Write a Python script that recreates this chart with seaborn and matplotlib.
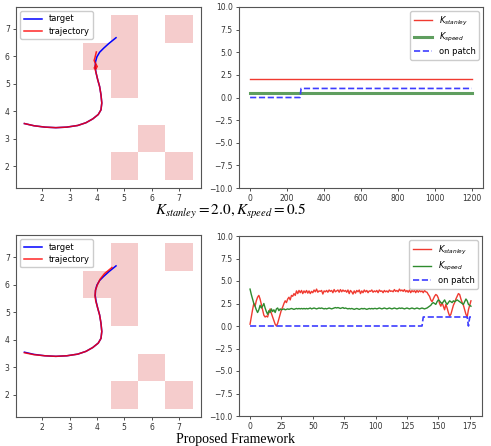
import matplotlib
matplotlib.use("Agg")
import matplotlib.pyplot as plt
from matplotlib.patches import Rectangle
import seaborn as sns

# ---------------- data ----------------
# obstacle patches (lower-left corner x, y), unit squares
patch_x = [3.5, 4.5, 4.5, 4.5, 6.5, 5.5, 4.5, 6.5]
patch_y = [5.5, 4.5, 5.5, 6.5, 6.5, 2.5, 1.5, 1.5]

target_x = [1.35, 1.7, 2.1, 2.5, 2.9, 3.3, 3.6, 3.85, 4.05, 4.15, 4.18, 4.15,
            4.1, 4.03, 3.97, 3.94, 3.95, 4.0, 4.1, 4.25, 4.45, 4.7]
target_y = [3.55, 3.47, 3.42, 3.40, 3.42, 3.48, 3.58, 3.72, 3.88, 4.05, 4.3, 4.6,
            4.9, 5.15, 5.4, 5.6, 5.8, 5.98, 6.15, 6.3, 6.48, 6.68]

traj1_x = [1.35, 1.7, 2.1, 2.5, 2.9, 3.3, 3.6, 3.85, 4.05, 4.15, 4.18, 4.15,
           4.1, 4.03, 3.97, 3.93, 3.9, 3.97, 4.0, 3.95, 3.92, 3.96, 4.0,
           3.93, 3.9, 3.93, 3.96, 3.98]
traj1_y = [3.55, 3.47, 3.42, 3.40, 3.42, 3.48, 3.58, 3.72, 3.88, 4.05, 4.3, 4.6,
           4.9, 5.15, 5.4, 5.55, 5.58, 5.55, 5.62, 5.7, 5.6, 5.55, 5.65,
           5.78, 5.85, 5.95, 6.08, 6.16]

traj2_x = [1.35, 1.7, 2.1, 2.5, 2.9, 3.3, 3.6, 3.85, 4.05, 4.15, 4.18, 4.15,
           4.1, 4.03, 3.96, 3.93, 3.95, 4.02, 4.12, 4.28, 4.55]
traj2_y = [3.53, 3.46, 3.42, 3.40, 3.42, 3.48, 3.58, 3.72, 3.88, 4.05, 4.3, 4.6,
           4.9, 5.15, 5.4, 5.6, 5.8, 6.0, 6.2, 6.4, 6.62]

# fixed gains run
fixed_t = [0, 1200]
fixed_stanley = [2.0, 2.0]
fixed_speed = [0.5, 0.5]
fixed_patch_t = [0, 270, 276, 1200]
fixed_patch = [0, 0, 1, 1]

# proposed framework run
k_stanley = [
    0.2, 1.0, 1.8, 2.5, 2.2, 2.8, 3.2, 3.4, 3.0, 2.4,
    1.8, 1.2, 1.0, 1.1, 1.0, 1.5, 1.9, 1.4, 1.0, 0.6,
    0.2, 0.0, 0.3, 0.8, 1.3, 1.8, 2.1, 2.5, 2.8, 2.6,
    3.0, 3.2, 2.9, 3.4, 3.3, 3.6, 3.4, 3.9, 3.6, 3.95,
    3.7, 3.95, 3.6, 3.9, 3.7, 3.95, 3.65, 3.9, 3.6, 3.85,
    3.7, 4.0, 3.8, 4.1, 3.75, 3.9, 3.85, 3.95, 3.55, 3.9,
    3.8, 3.95, 3.75, 4.0, 3.85, 3.95, 3.7, 4.05, 3.8, 3.9,
    4.0, 3.75, 4.05, 3.8, 4.0, 3.85, 3.95, 3.75, 4.0, 3.6,
    3.95, 3.8, 3.55, 3.9, 3.65, 3.95, 3.8, 4.0, 3.6, 3.9,
    3.7, 4.0, 3.8, 3.95, 3.7, 3.9, 3.85, 4.0, 3.75, 3.9,
    3.8, 3.95, 3.7, 4.0, 3.85, 3.9, 3.7, 3.95, 3.8, 3.9,
    3.75, 4.0, 3.85, 3.9, 3.8, 4.05, 3.85, 3.95, 3.8, 4.1,
    3.9, 4.0, 3.85, 4.05, 3.8, 3.95, 3.75, 4.0, 3.7, 3.95,
    3.8, 3.95, 3.7, 4.0, 3.75, 3.95, 3.8, 3.9, 3.7, 3.95,
    3.8, 3.75, 3.5, 3.3, 2.9, 2.7, 3.0, 3.3, 3.5, 3.4,
    3.1, 2.5, 2.2, 2.6, 2.2, 1.8, 2.4, 2.0, 1.5, 1.1,
    1.3, 1.8, 2.3, 2.6, 3.0, 3.3, 3.6, 3.5, 3.0, 2.6,
    2.3, 1.8, 1.3, 1.0, 1.8, 2.3, 2.8]
k_speed = [
    4.1, 3.5, 3.0, 2.5, 2.2, 1.8, 1.5, 1.8, 2.3, 2.0,
    2.2, 2.5, 2.0, 1.6, 1.3, 1.7, 1.5, 1.9, 1.6, 1.8,
    1.5, 1.9, 2.0, 1.7, 1.9, 1.8, 1.85, 1.9, 1.8, 1.85,
    1.9, 1.85, 1.9, 1.95, 1.9, 1.85, 1.9, 1.95, 1.9, 1.95,
    1.9, 1.95, 1.9, 1.95, 1.9, 1.95, 1.9, 1.95, 2.0, 1.9,
    1.95, 2.0, 1.95, 1.9, 1.95, 2.0, 1.95, 2.0, 1.95, 1.9,
    1.95, 1.9, 1.95, 2.0, 1.95, 1.9, 1.95, 2.0, 2.05, 2.0,
    2.05, 2.0, 1.95, 2.0, 2.05, 1.95, 2.0, 1.95, 1.9, 1.95,
    1.9, 1.95, 1.9, 1.85, 1.9, 1.95, 1.9, 1.85, 1.9, 1.95,
    1.9, 1.95, 1.9, 1.85, 1.9, 1.95, 1.9, 1.95, 1.9, 1.95,
    1.95, 1.9, 1.95, 2.0, 1.95, 1.9, 1.95, 2.0, 1.95, 1.9,
    1.95, 2.0, 1.95, 1.9, 1.95, 2.0, 1.95, 1.9, 1.95, 2.0,
    1.95, 2.0, 1.95, 1.9, 1.95, 2.0, 1.95, 1.9, 1.95, 2.0,
    1.95, 1.9, 1.95, 2.0, 1.95, 1.9, 1.95, 2.0, 1.95, 1.9,
    1.95, 2.0, 2.1, 2.2, 2.3, 2.5, 2.6, 2.5, 2.4, 2.7,
    2.9, 2.8, 2.6, 2.5, 2.7, 2.9, 2.6, 2.4, 2.6, 2.8,
    2.7, 2.6, 2.8, 2.7, 2.8, 2.9, 2.8, 2.7, 2.6, 2.5,
    2.4, 2.7, 3.0, 2.8, 2.4, 2.3, 2.2]
steps = list(range(len(k_stanley)))
prop_patch_t = [0, 137, 138, 173, 174, 175, 176]
prop_patch = [0, 0, 1, 1, 0, 1, 1]

caption_mid = r"$K_{stanley}=2.0, K_{speed}=0.5$"
caption_bottom = "Proposed Framework"

# ---------------- drawing ----------------
W, H = 491, 446
fig = plt.figure(figsize=(W / 100, H / 100), dpi=100)

def frac(x0, y0, x1, y1):
    return [x0 / W, 1 - y1 / H, (x1 - x0) / W, (y1 - y0) / H]

ax_tl = fig.add_axes(frac(16, 7, 201, 188))
ax_tr = fig.add_axes(frac(239, 7, 483, 188))
ax_bl = fig.add_axes(frac(16, 235, 201, 417))
ax_br = fig.add_axes(frac(239, 236, 482, 416))

RED = "#f03a30"
GREEN = "#2e8b2e"
BLUE = "#3d3dff"
PINK = "#f5cccc"
SPINE = "#555555"
FS = 5.5

def style(ax):
    for s in ax.spines.values():
        s.set_color(SPINE)
        s.set_linewidth(0.8)
    ax.tick_params(labelsize=FS, length=2.5, width=0.6, colors="#333333", pad=2)

def traj_panel(ax, tx, ty):
    for px, py in zip(patch_x, patch_y):
        ax.add_patch(Rectangle((px, py), 1, 1, facecolor=PINK, edgecolor="none", zorder=0))
    sns.lineplot(x=target_x, y=target_y, sort=False, estimator=None, ax=ax,
                 color="blue", lw=1.1, label="target")
    sns.lineplot(x=tx, y=ty, sort=False, estimator=None, ax=ax,
                 color="red", lw=1.1, alpha=0.85, label="trajectory")
    ax.autoscale()
    ax.set_xticks([2, 3, 4, 5, 6, 7])
    ax.set_yticks([2, 3, 4, 5, 6, 7])
    ax.legend(loc="upper left", fontsize=FS + 0.5, handlelength=2.2,
              borderpad=0.4, labelspacing=0.4, framealpha=1, edgecolor="#cccccc")
    style(ax)

traj_panel(ax_tl, traj1_x, traj1_y)
traj_panel(ax_bl, traj2_x, traj2_y)

def gain_panel(ax, t, ks, ksp, pt, pv, speed_lw, speed_color):
    sns.lineplot(x=t, y=ks, ax=ax, color=RED, lw=1.0, label=r"$K_{stanley}$")
    sns.lineplot(x=t, y=ksp, ax=ax, color=speed_color, lw=speed_lw, label=r"$K_{speed}$")
    sns.lineplot(x=pt, y=pv, ax=ax, color=BLUE, lw=1.2, linestyle="--",
                 label="on patch", estimator=None, sort=False)
    ax.set_ylim(-10, 10)
    ax.set_yticks([-10, -7.5, -5, -2.5, 0, 2.5, 5, 7.5, 10])
    ax.set_yticklabels(["\u221210.0", "\u22127.5", "\u22125.0", "\u22122.5", "0.0",
                        "2.5", "5.0", "7.5", "10.0"])
    ax.legend(loc="upper right", fontsize=FS + 0.5, handlelength=2.2,
              borderpad=0.4, labelspacing=0.4, framealpha=1, edgecolor="#cccccc")
    style(ax)

gain_panel(ax_tr, fixed_t, fixed_stanley, fixed_speed, fixed_patch_t, fixed_patch,
           2.2, "#5f9e5f")
ax_tr.set_xticks([0, 200, 400, 600, 800, 1000, 1200])
gain_panel(ax_br, steps, k_stanley, k_speed, prop_patch_t, prop_patch,
           1.0, GREEN)
ax_br.set_xticks([0, 25, 50, 75, 100, 125, 150, 175])

fig.text(231 / W, 1 - 215 / H, caption_mid, ha="center", va="baseline",
         fontsize=11, math_fontfamily="stix")
fig.text(236 / W, 1 - 443 / H, caption_bottom, ha="center", va="baseline",
         fontsize=10, family="Liberation Serif")

fig.savefig("out.png", dpi=100)
